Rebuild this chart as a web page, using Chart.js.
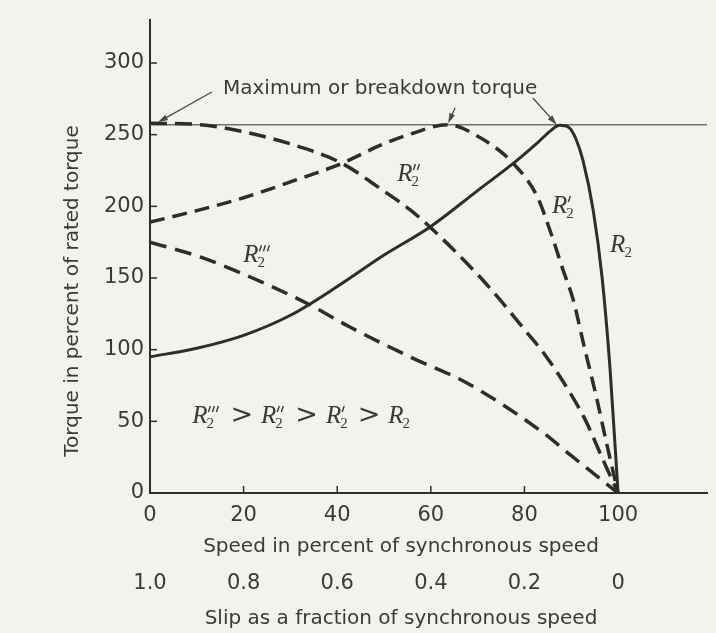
<!DOCTYPE html>
<html>
<head>
<meta charset="utf-8">
<title>Torque-speed characteristics</title>
<script src="https://cdn.jsdelivr.net/npm/chart.js@4.4.1/dist/chart.umd.min.js"></script>
<style>
  html, body { margin: 0; padding: 0; background: #f4f2ec; }
</style>
</head>
<body>
<canvas id="chart" width="716" height="633"></canvas>
<script>
// speed (% of synchronous) -> torque (% of rated)
const SPEED_TICKS = [0, 20, 40, 60, 80, 100];
const SLIP_LABELS = ['1.0', '0.8', '0.6', '0.4', '0.2', '0'];
const TORQUE_TICKS = [0, 50, 100, 150, 200, 250, 300];

const r2Speed  = [0, 10, 20, 30, 40, 50, 60, 70, 78, 83, 85.5, 87.5, 89.5, 91, 92.5, 94.7, 96.6, 98.3, 100];
const r2Torque = [95, 101, 110, 124, 144, 166, 186, 211, 231, 245, 252.5, 256.5, 255, 247, 232, 197, 150, 86, 0];

const r2pSpeed  = [0, 10, 20, 30, 41, 49.5, 56.2, 63.5, 70.5, 77.6, 82.7, 85.9, 88.2, 90.4, 92.7, 95.3, 97.6, 100];
const r2pTorque = [189, 197, 206, 217, 230, 243, 251, 257, 248, 230, 207, 179, 156, 135, 103, 68, 34, 0];

const r2ppSpeed  = [0, 10.7, 21.4, 32, 41, 49.8, 55.6, 59.8, 70.5, 74.8, 80.1, 84.4, 88.7, 93, 96.8, 100];
const r2ppTorque = [258, 257, 251, 241.5, 230, 211, 197.5, 185.6, 150.7, 134.7, 113.7, 96.3, 75.4, 51, 23, 0];

const r2pppSpeed  = [0, 10.7, 21.4, 34.2, 42.7, 55.6, 67.7, 84, 90, 95, 100];
const r2pppTorque = [175, 164.7, 150.7, 131.2, 115.8, 94.9, 76.8, 42, 26, 13, 0];

const BREAKDOWN = 257;

// curve labels: [speed, torque, number of primes]
const curveLabels = [[19.9, 161, 3], [52.8, 217.7, 2], [85.9, 195.4, 1], [98.3, 168, 0]];
// arrows from the note to the breakdown points: [fromX, fromY, toX, toY]
const arrows = [[13.2, 279.8, 1.7, 258.6], [65.2, 268.8, 63.7, 258], [81.8, 275.6, 86.9, 257]];
const notePos = [15.6, 282];
const inequalityPos = [9, 48.8];

const INK = '#2d2d2d';
const TEXT = '#3a3a3a';
const SANS = '"DejaVu Sans", sans-serif';

const toPts = (xs, ys) => xs.map((x, i) => ({ x, y: ys[i] }));

function drawR(ctx, x, y, primes) {
  ctx.textAlign = 'left';
  ctx.textBaseline = 'alphabetic';
  ctx.font = 'italic 25px "Liberation Serif", "DejaVu Serif", serif';
  ctx.fillText('R', x, y);
  const w = ctx.measureText('R').width;
  ctx.font = '15px "Liberation Serif", serif';
  ctx.fillText('2', x + w - 1, y + 5);
  let extra = ctx.measureText('2').width;
  // primes as short slanted strokes above the subscript
  ctx.save();
  ctx.strokeStyle = ctx.fillStyle;
  ctx.lineWidth = 1.4;
  for (let i = 0; i < primes; i++) {
    const px = x + w + 1 + i * 4;
    ctx.beginPath();
    ctx.moveTo(px + 2, y - 17);
    ctx.lineTo(px, y - 11);
    ctx.stroke();
  }
  ctx.restore();
  extra = Math.max(extra, primes * 4 + 2);
  return w + extra;
}

function drawArrow(ctx, x1, y1, x2, y2) {
  const a = Math.atan2(y2 - y1, x2 - x1);
  ctx.beginPath();
  ctx.moveTo(x1, y1);
  ctx.lineTo(x2 - 6 * Math.cos(a), y2 - 6 * Math.sin(a));
  ctx.stroke();
  ctx.beginPath();
  ctx.moveTo(x2, y2);
  ctx.lineTo(x2 - 10 * Math.cos(a) + 3 * Math.sin(a), y2 - 10 * Math.sin(a) - 3 * Math.cos(a));
  ctx.lineTo(x2 - 10 * Math.cos(a) - 3 * Math.sin(a), y2 - 10 * Math.sin(a) + 3 * Math.cos(a));
  ctx.closePath();
  ctx.fill();
}

const paper = {
  id: 'paper',
  beforeDraw(chart) {
    const { ctx, width, height } = chart;
    ctx.save();
    ctx.fillStyle = '#f4f2ec';
    ctx.fillRect(0, 0, width, height);
    ctx.restore();
  }
};

const extras = {
  id: 'extras',
  afterDraw(chart) {
    const { ctx, scales: { x, y } } = chart;
    ctx.save();

    // inward tick marks
    ctx.strokeStyle = INK;
    ctx.lineWidth = 1.5;
    SPEED_TICKS.filter(v => v > 0).forEach(v => {
      const px = x.getPixelForValue(v);
      ctx.beginPath();
      ctx.moveTo(px, y.bottom);
      ctx.lineTo(px, y.bottom - 7);
      ctx.stroke();
    });
    TORQUE_TICKS.filter(v => v > 0).forEach(v => {
      const py = y.getPixelForValue(v);
      ctx.beginPath();
      ctx.moveTo(x.left, py);
      ctx.lineTo(x.left + 7, py);
      ctx.stroke();
    });

    // axis titles
    ctx.fillStyle = TEXT;
    ctx.font = '20px ' + SANS;
    ctx.textAlign = 'center';
    ctx.textBaseline = 'middle';
    ctx.fillText('Speed in percent of synchronous speed', 401, 547);
    ctx.fillText('Slip as a fraction of synchronous speed', 401, 619);
    ctx.save();
    ctx.translate(73, 291);
    ctx.rotate(-Math.PI / 2);
    ctx.fillText('Torque in percent of rated torque', 0, 0);
    ctx.restore();

    // note and arrows
    ctx.textAlign = 'left';
    ctx.fillText('Maximum or breakdown torque', x.getPixelForValue(notePos[0]), y.getPixelForValue(notePos[1]));
    ctx.strokeStyle = '#4a4a4a';
    ctx.fillStyle = '#4a4a4a';
    ctx.lineWidth = 1.3;
    arrows.forEach(([fx, fy, tx, ty]) => {
      drawArrow(ctx, x.getPixelForValue(fx), y.getPixelForValue(fy), x.getPixelForValue(tx), y.getPixelForValue(ty));
    });

    // curve labels
    ctx.fillStyle = TEXT;
    curveLabels.forEach(([sx, ty, n]) => {
      drawR(ctx, x.getPixelForValue(sx), y.getPixelForValue(ty), n);
    });

    // R2''' > R2'' > R2' > R2
    let cx = x.getPixelForValue(inequalityPos[0]);
    const cy = y.getPixelForValue(inequalityPos[1]);
    [3, 2, 1, 0].forEach((n, i) => {
      cx += drawR(ctx, cx, cy, n) + 9;
      if (i < 3) {
        ctx.font = '27px ' + SANS;
        ctx.textBaseline = 'alphabetic';
        ctx.fillText('>', cx, cy);
        cx += ctx.measureText('>').width + 8;
      }
    });
    ctx.restore();
  }
};

const lineStyle = { borderColor: INK, pointRadius: 0, fill: false, cubicInterpolationMode: 'monotone' };

new Chart(document.getElementById('chart'), {
  type: 'line',
  data: {
    datasets: [
      { ...lineStyle, label: 'R2', data: toPts(r2Speed, r2Torque), borderWidth: 3 },
      { ...lineStyle, label: "R2'", data: toPts(r2pSpeed, r2pTorque), borderWidth: 3.5, borderDash: [15, 8] },
      { ...lineStyle, label: "R2''", data: toPts(r2ppSpeed, r2ppTorque), borderWidth: 3.5, borderDash: [17, 8] },
      { ...lineStyle, label: "R2'''", data: toPts(r2pppSpeed, r2pppTorque), borderWidth: 3.5, borderDash: [17, 9] },
      { label: 'Breakdown', data: [{ x: 0, y: BREAKDOWN }, { x: 119, y: BREAKDOWN }],
        borderColor: '#707070', borderWidth: 1.5, pointRadius: 0, fill: false }
    ]
  },
  options: {
    responsive: false,
    animation: false,
    devicePixelRatio: 1,
    events: [],
    layout: { padding: { top: 20, right: 9, bottom: 0, left: 0 } },
    plugins: { legend: { display: false }, tooltip: { enabled: false } },
    scales: {
      x: {
        type: 'linear', position: 'bottom', weight: 0, min: 0, max: 119,
        afterBuildTicks: s => { s.ticks = SPEED_TICKS.map(v => ({ value: v })); },
        afterFit: s => { s.height = 66; },
        grid: { display: false, drawTicks: false },
        border: { display: true, color: INK, width: 2 },
        ticks: { padding: 10, color: TEXT, autoSkip: false, maxRotation: 0, font: { family: SANS, size: 21 } }
      },
      x2: {
        type: 'linear', position: 'bottom', weight: 1, min: 0, max: 119,
        afterBuildTicks: s => { s.ticks = SPEED_TICKS.map(v => ({ value: v })); },
        afterFit: s => { s.height = 74; },
        grid: { display: false, drawTicks: false },
        border: { display: false },
        ticks: { padding: 12, color: TEXT, autoSkip: false, maxRotation: 0, font: { family: SANS, size: 21 },
          callback: (v, i) => SLIP_LABELS[i] }
      },
      y: {
        type: 'linear', min: 0, max: 330,
        afterBuildTicks: s => { s.ticks = TORQUE_TICKS.map(v => ({ value: v })); },
        afterFit: s => { s.width = 150; },
        grid: { display: false, drawTicks: false },
        border: { display: true, color: INK, width: 2 },
        ticks: { padding: 6, color: TEXT, font: { family: SANS, size: 21 } }
      }
    }
  },
  plugins: [paper, extras]
});
</script>
</body>
</html>
